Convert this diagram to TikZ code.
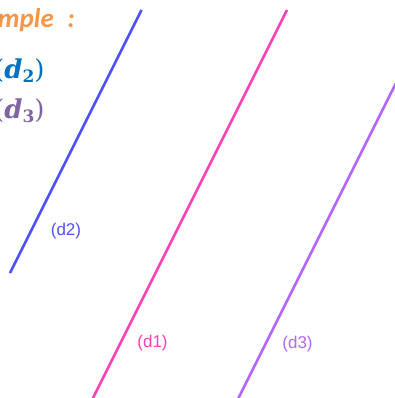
\documentclass[tikz,border=0pt]{standalone}
\usepackage{fontspec}
\setmainfont{Liberation Sans}
\newfontfamily\calfont{Carlito}
\newfontfamily\mathserif{DejaVu Serif}
\definecolor{lblue}{RGB}{80,80,255}
\definecolor{lpink}{RGB}{255,64,180}
\definecolor{lpurple}{RGB}{178,102,255}
\definecolor{exorange}{RGB}{247,150,70}
\definecolor{dblue}{RGB}{0,112,192}
\definecolor{dpurple}{RGB}{128,100,162}
\newcommand{\dsub}[1]{{\fontsize{26}{30}\selectfont\upshape\mdseries(}{\bfseries\itshape d}{\fontsize{17}{20}\selectfont\upshape\bfseries\raisebox{-4pt}{#1}}{\fontsize{26}{30}\selectfont\upshape\mdseries)}}
\tikzset{
  dline/.style={line width=2.6pt},
  lbl/.style={font=\fontsize{17}{20}\selectfont, inner sep=0pt},
  mtxt/.style={font=\mathserif\fontsize{26}{30}\selectfont, inner sep=0pt, anchor=base west},
}
\begin{document}
\begin{tikzpicture}[x=1pt,y=-1pt]
\useasboundingbox (0,0) rectangle (395,398);
\clip (0,0) rectangle (395,398);
\fill[white] (0,0) rectangle (395,398);
% title text, cut at left
\node[font=\calfont\fontsize{27}{31}\selectfont\bfseries\itshape, text=exorange, inner sep=0pt, anchor=base east] (ex) at (75,28) {Exemple\hspace{0.5em}:};
\node[mtxt, text=dblue] (d2t) at (-6,79) {\dsub{2}};
\node[mtxt, text=dpurple] (d3t) at (-6,119) {\dsub{3}};
% lines
\coordinate (b1) at (141.5,10);
\coordinate (b2) at (10,273);
\coordinate (p1) at (287,10);
\coordinate (p2) at (93,398);
\coordinate (v1) at (396,83);
\coordinate (v2) at (238,399);
\draw[dline, lblue] (b1) -- (b2);
\draw[dline, lpink] (p1) -- (p2);
\draw[dline, lpurple] (v1) -- (v2);
% labels
\node[lbl, text=lblue] (ld2) at (66,231) {(d2)};
\node[lbl, text=lpink] (ld1) at (152.5,343) {(d1)};
\node[lbl, text=lpurple] (ld3) at (297.5,344) {(d3)};
\end{tikzpicture}
\end{document}
